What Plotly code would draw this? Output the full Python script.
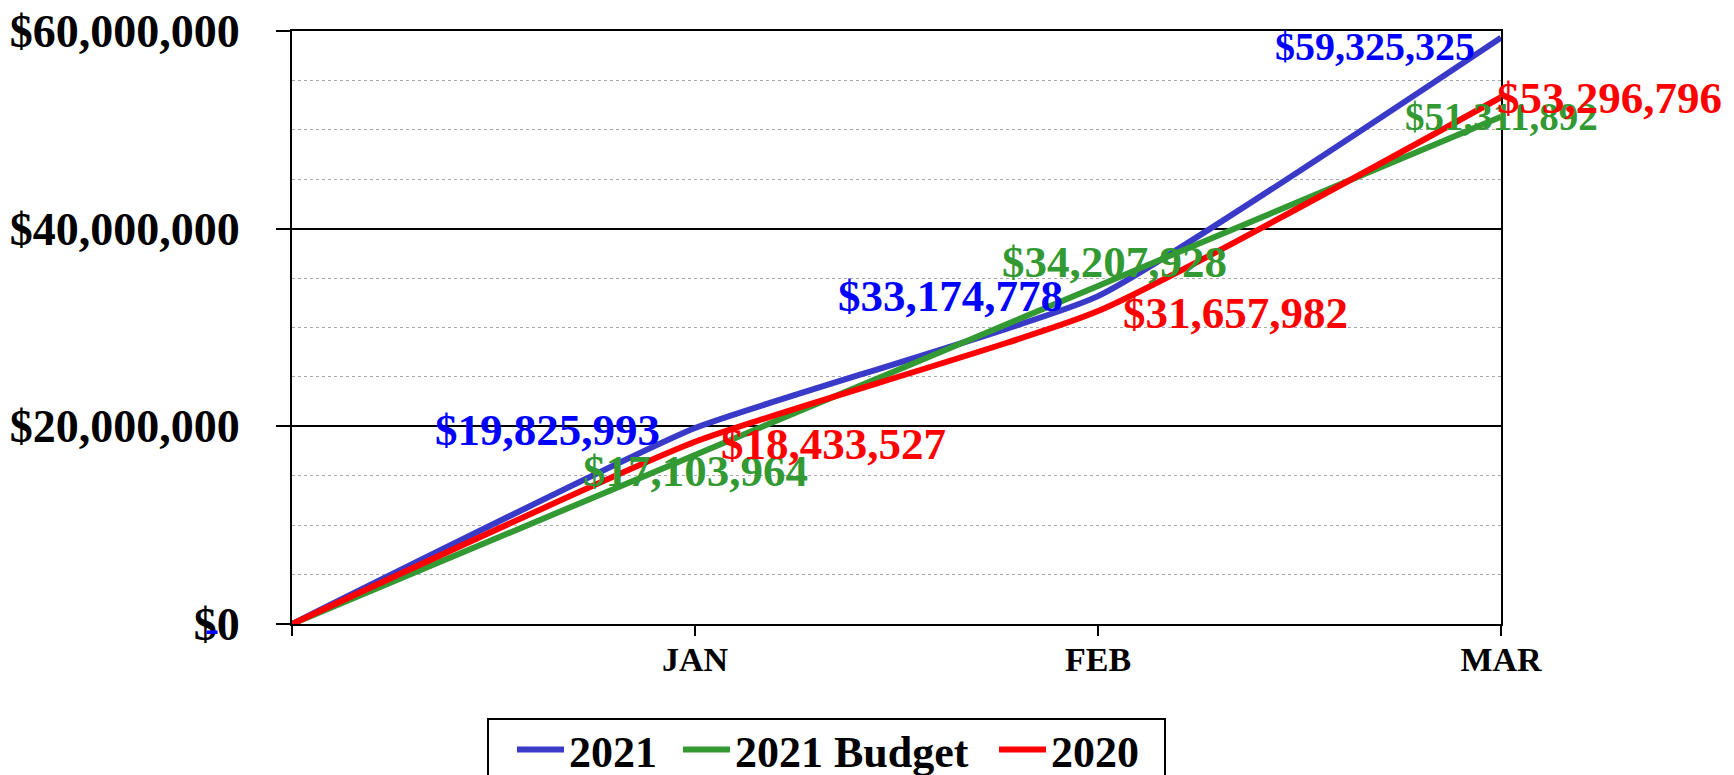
import plotly.graph_objects as go

months = ["", "JAN", "FEB", "MAR"]
actual_2021 = [0, 19825993, 33174778, 59325325]
budget_2021 = [0, 17103964, 34207928, 51311892]
actual_2020 = [0, 18433527, 31657982, 53296796]

y_ticks = [0, 20000000, 40000000, 60000000]
y_tick_text = ["$0", "$20,000,000", "$40,000,000", "$60,000,000"]

FONT = "Liberation Serif"
BLUE_LINE = "#3A3AC8"
BLUE_TEXT = "#0000FF"
GREEN = "#339933"
RED = "#FF0000"

x = list(range(len(months)))

# page geometry (the page body adds an 8px offset)
PX0, PX1, PY0, PY1 = 292, 1501, 31, 624


def px(X):
    return (X - PX0) / (PX1 - PX0)


def py(Y):
    return (PY1 - Y) / (PY1 - PY0)


fig = go.Figure()
fig.add_trace(go.Scatter(x=x, y=actual_2021, name="2021", mode="lines", legend="legend",
                         line=dict(color=BLUE_LINE, width=6, shape="spline", smoothing=0.4)))
fig.add_trace(go.Scatter(x=x, y=budget_2021, name="2021 Budget", mode="lines", legend="legend2",
                         line=dict(color=GREEN, width=6, shape="spline", smoothing=0.4)))
fig.add_trace(go.Scatter(x=x, y=actual_2020, name="2020", mode="lines", legend="legend3",
                         line=dict(color=RED, width=6, shape="spline", smoothing=0.5)))


def fmt(v):
    return "${:,.0f}".format(v)


# label placement per series/point: (xanchor, xshift, yshift, size)
place_2021 = [None, ("right", -33, -2, 45), ("right", -33, 0, 45), ("right", -24, -9, 40)]
place_budget = [None, ("center", 0, -16, 45), ("center", 16, 24, 45), ("center", 0, 0, 39)]
place_2020 = [None, ("left", 24, -2, 45), ("left", 23, -2, 45), ("left", -6, -1, 45)]

for vals, places, col in [(actual_2021, place_2021, BLUE_TEXT),
                          (budget_2021, place_budget, GREEN),
                          (actual_2020, place_2020, RED)]:
    for i, v in enumerate(vals):
        p = places[i]
        if p is None:
            continue
        xa, xs, ys, sz = p
        fig.add_annotation(x=x[i], y=v, text=fmt(v), showarrow=False,
                           xanchor=xa, yanchor="middle", xshift=xs, yshift=ys,
                           font=dict(family=FONT, size=sz, color=col, weight="bold"))

# zero-value label of the 2021 series (accounting dash)
fig.add_annotation(x=x[0], y=actual_2021[0], text="-", showarrow=False,
                   xanchor="center", yanchor="middle", xshift=-80, yshift=-4,
                   font=dict(family=FONT, size=42, color=BLUE_TEXT, weight="bold"))

legend_font = dict(family=FONT, size=44, color="black", weight="bold")
leg_common = dict(orientation="h", xanchor="left", yanchor="middle", y=py(750),
                  borderwidth=0, bgcolor="rgba(0,0,0,0)", font=legend_font, itemwidth=47)

fig.update_layout(
    width=1726, height=767,
    margin=dict(l=PX0 - 8, r=1734 - PX1, t=PY0 - 8, b=775 - PY1, autoexpand=False),
    paper_bgcolor="white", plot_bgcolor="white",
    showlegend=True,
    legend=dict(x=px(512), **leg_common),
    legend2=dict(x=px(678), **leg_common),
    legend3=dict(x=px(994), **leg_common),
)

# legend frame
fig.add_shape(type="rect", xref="paper", yref="paper",
              x0=px(488), x1=px(1165), y0=py(719), y1=py(800),
              line=dict(color="black", width=2), fillcolor="rgba(0,0,0,0)", layer="above")

fig.update_xaxes(
    range=[0, 3], tickmode="array", tickvals=x, ticktext=months,
    showgrid=False, zeroline=False,
    showline=True, linecolor="black", linewidth=2, mirror=True,
    ticks="outside", ticklen=10, tickwidth=2, tickcolor="black",
    tickfont=dict(family=FONT, size=34, color="black", weight="bold"),
    ticklabelstandoff=-6, ticklabeloverflow="allow",
)
fig.update_yaxes(
    range=[0, 60000000], tickmode="array", tickvals=y_ticks, ticktext=y_tick_text,
    showgrid=True, gridcolor="black", gridwidth=2, zeroline=False,
    showline=True, linecolor="black", linewidth=2, mirror=True,
    ticks="outside", ticklen=14, tickwidth=2, tickcolor="black",
    tickfont=dict(family=FONT, size=46, color="black", weight="bold"),
    ticklabelstandoff=27, ticklabeloverflow="allow",
    minor=dict(dtick=5000000, showgrid=True, gridcolor="#A8A8A8", griddash="dot", gridwidth=1, ticks=""),
)

fig.write_html("out.html")
